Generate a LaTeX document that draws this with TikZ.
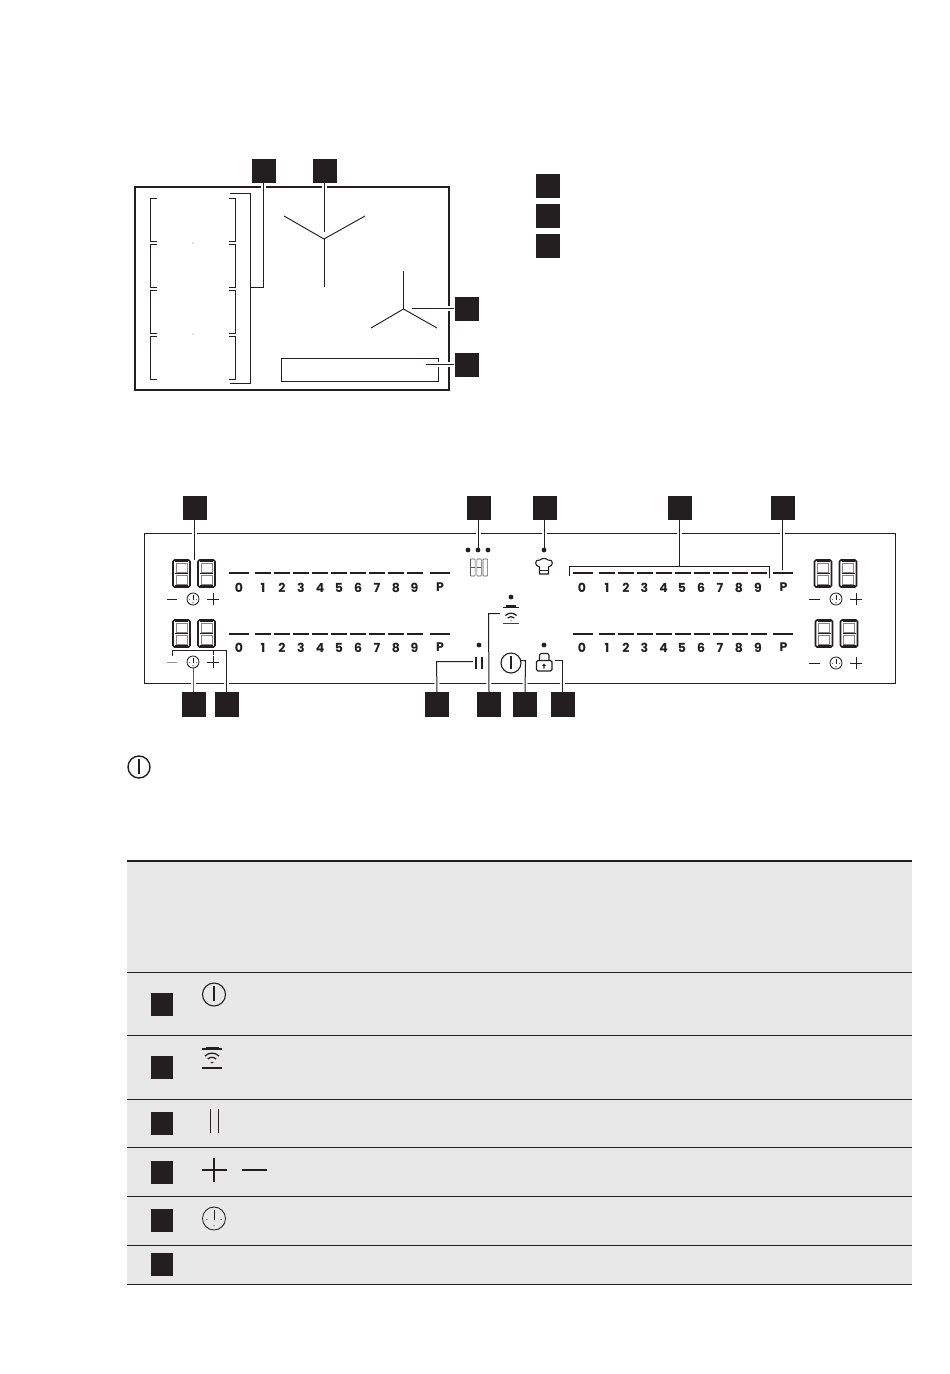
\documentclass[tikz,border=0pt]{standalone}
\usepackage{fontspec}
\setmainfont{Poppins}
\definecolor{ink}{HTML}{231F20}
\definecolor{band}{HTML}{E8E8E8}
\tikzset{
  sq/.style={fill=ink,draw=none,inner sep=0pt,minimum width=24pt,minimum height=24pt},
  sqs/.style={fill=ink,draw=none,inner sep=0pt,minimum width=22.5pt,minimum height=23pt},
  lead/.style={draw=ink,line width=1pt,preaction={draw=white,line width=5pt}},
  thin/.style={draw=ink,line width=.95pt},
  bar/.style={draw=ink,line width=2pt},
  num/.style={font=\bfseries\fontsize{12.5}{12.5}\selectfont,text=ink,inner sep=0pt},
  dotm/.style={circle,fill=ink,inner sep=0pt,minimum size=4.8pt}
}
\newcommand{\segdigit}[2]{%
  \draw[draw=ink,line width=1.7pt,line join=round]
    (#1+1.5,#2) -- (#1+15.5,#2) -- (#1+17,#2+1.5) -- (#1+17,#2+25.5) -- (#1+15.5,#2+27) -- (#1+1.5,#2+27) -- (#1,#2+25.5) -- (#1,#2+1.5) -- cycle;
  \draw[draw=ink!55,line width=.35pt]
    (#1+3,#2+3) -- (#1+14,#2+3) -- (#1+14,#2+12) -- (#1+3,#2+12) -- cycle
    (#1+3,#2+15) -- (#1+14,#2+15) -- (#1+14,#2+24) -- (#1+3,#2+24) -- cycle;
  \draw[draw=ink,line width=1.8pt] (#1+2,#2+1) -- ++(13,0) (#1+2,#2+26) -- ++(13,0) (#1+2,#2+13.5) -- ++(13,0);
}
\newcommand{\clockicon}[3]{%
  \draw[draw=ink,line width=.85pt] (#1,#2) circle (#3);
  \draw[draw=ink,line width=.85pt] (#1,#2-.7*#3) -- (#1,#2+.15*#3);
  \fill[ink] (#1-.62*#3,#2+.1*#3) circle (.55) (#1+.62*#3,#2+.1*#3) circle (.55) (#1,#2+.62*#3) circle (.55);
}
\newcommand{\ctlrow}[5]{%
  \draw[draw=#5,line width=1pt] (#1,#4) -- (#1+10.5,#4);
  \clockicon{#2}{#4}{6}
  \draw[draw=ink,line width=1pt] (#3-6,#4) -- (#3+6,#4) (#3,#4-6) -- (#3,#4+6);
}
\newcommand{\powericon}[4]{%
  \draw[draw=ink,line width=#4pt] (#1,#2) circle (#3);
  \draw[draw=ink,line width=#4pt] (#1,#2-.7*#3) -- (#1,#2+.6*#3);
}
% cx, bar y, half width, offsets of the three arcs
\newcommand{\hoodicon}[6]{%
  \fill[ink] (#1-.65*#3,#2-1.8) rectangle (#1+.65*#3,#2);
  \draw[draw=ink,line width=1.5pt] (#1-#3,#2+.5) -- (#1+#3,#2+.5);
  \draw[draw=ink,line width=1.25pt] (#1-.7*#3,#2+#4) arc (225:315:.99*#3);
  \draw[draw=ink,line width=1.25pt] (#1-.42*#3,#2+#5) arc (225:315:.59*#3);
  \fill[ink] (#1-.16*#3,#2+#6) arc (225:315:.23*#3) -- (#1,#2+#6+.8) -- cycle;
}
\begin{document}
\begin{tikzpicture}[x=1pt,y=-1pt]
\useasboundingbox (0,0) rectangle (950,1374);
% ---------- hob ----------
\draw[draw=ink,line width=2pt] (135,187) rectangle (449,390);
\node[sq] (a1) at (264,171) {};
\node[sq] (a2) at (324.5,171) {};
\node[sq] (a3) at (466.5,308.5) {};
\node[sq] (a4) at (466.5,365) {};
\node[sq] (l1) at (548,186) {};
\node[sq] (l2) at (548,216) {};
\node[sq] (l3) at (548,246) {};
\coordinate (a1e) at (250.5,287.5);
\coordinate (a2e) at (324.5,232);
\coordinate (a3e) at (412,308.5);
\coordinate (a4e) at (426,364.5);
\draw[lead] (a1.south -| 263.5,0) -- (263.5,287.5) -- (a1e);
\draw[lead] (a2.south) -- (a2e);
\draw[lead] (a3.west) -- (a3e);
\draw[thin] (281.5,358.5) rectangle (438.5,381.5);
\draw[lead] (a4.west |- 0,364.5) -- (a4e);
\draw[thin] (230,193.5) -- (250.5,193.5) -- (250.5,383.5) -- (230,383.5);
\foreach \ya/\yb in {198.5/241.5,244.5/287.5,290.5/333.5,336.5/379.5}{
  \draw[thin] (157,\ya) -- (150.5,\ya) -- (150.5,\yb) -- (157,\yb);
  \draw[thin] (229,\ya) -- (235.5,\ya) -- (235.5,\yb) -- (229,\yb);
}
\fill[ink!60] (193,243) circle (.7) (193,334) circle (.7);
\draw[thin] (284,216) -- (324,239) -- (365,216) (324.5,239) -- (324.5,287);
\draw[thin] (403.5,271) -- (403.5,309) (371,328) -- (403.5,309) -- (437,328);
% ---------- panel ----------
\draw[draw=ink,line width=1pt] (144.5,533.5) rectangle (895.5,683.5);
\node[sq] (p1) at (194.5,508) {};
\node[sq] (p2) at (478.5,508) {};
\node[sq] (p3) at (544.5,508) {};
\node[sq] (p4) at (679.5,508) {};
\node[sq] (p5) at (783,508) {};
\node[sq,minimum height=25pt] (b1) at (193.5,704.5) {};
\node[sq,minimum height=25pt] (b2) at (226.5,704.5) {};
\node[sq,minimum height=25pt] (b3) at (437,704.5) {};
\node[sq,minimum height=25pt] (b4) at (489,704.5) {};
\node[sq,minimum height=25pt] (b5) at (525,704.5) {};
\node[sq,minimum height=25pt] (b6) at (562.5,704.5) {};
\coordinate (p1e) at (194.5,560);
\coordinate (p2e) at (478.5,550);
\coordinate (p3e) at (544.5,550);
\coordinate (p4e) at (679.5,566);
\coordinate (p5e) at (782.5,570);
\draw[lead] (p1.south) -- (p1e);
\draw[lead] (p2.south) -- (p2e);
\draw[lead] (p3.south) -- (p3e);
\draw[lead] (p4.south) -- (p4e);
\draw[lead] (p5.south -| p5e) -- (p5e);
\draw[thin] (569.5,576) -- (569.5,566.5) -- (769.5,566.5) -- (769.5,578);
\coordinate (b1e) at (193.5,668);
\coordinate (b3e) at (473,661.5);
\coordinate (b4e) at (500,613.5);
\coordinate (b5e) at (520,660.5);
\coordinate (b6e) at (555,660.5);
\draw[lead,draw=ink!70,line width=1.2pt] (b1.north) -- (b1e);
\draw[lead] (b2.north) -- (226.5,650.5) -- (172.5,650.5) -- (172.5,656);
\draw[thin] (213.5,650.5) -- (213.5,655);
\draw[lead] (b3.north) -- (436.5,661.5) -- (b3e);
\draw[lead] (b4.north) -- (488.5,613.5) -- (b4e);
\draw[lead] (b5.north) -- (525.5,660.5) -- (b5e);
\draw[lead] (b6.north) -- (562.5,660.5) -- (b6e);
% seven-segment displays
\segdigit{173}{560}\segdigit{198}{560}
\segdigit{173}{620}\segdigit{198}{620}
\segdigit{814.5}{560}\segdigit{839.5}{560}
\segdigit{815.5}{620}\segdigit{840.5}{620}
\ctlrow{166.5}{193}{213}{599}{ink}
\ctlrow{166.5}{193}{213}{662}{ink!50}
\ctlrow{809}{836}{856}{599}{ink}
\ctlrow{809}{836}{856}{663}{ink}
% sliders
\foreach \yb/\yd in {573/587.5,634/647.5}{
  \draw[bar] (229,\yb) -- (249,\yb) (430,\yb) -- (450,\yb);
  \foreach \i in {0,...,8}{\draw[bar] (255+19*\i,\yb) -- (271+19*\i,\yb);}
  \foreach \n/\x in {0/239,1/263,2/282,3/301,4/320,5/339,6/358,7/377,8/396,9/414.5,P/440}{
    \node[num] (d\n\yd) at (\x,\yd) {\n};
  }
  \draw[bar] (572.5,\yb) -- (592.5,\yb) (773,\yb) -- (793,\yb);
  \foreach \i in {0,...,8}{\draw[bar] (598.5+19*\i,\yb) -- (614.5+19*\i,\yb);}
  \foreach \n/\x in {0/582,1/607,2/626,3/644.5,4/663.5,5/682,6/701,7/720,8/739,9/758,P/783.5}{
    \node[num] (e\n\yd) at (\x,\yd) {\n};
  }
}
% centre icons
\node[dotm] (m1) at (468,550) {};
\node[dotm] (m2) at (478,550) {};
\node[dotm] (m3) at (488,550) {};
\foreach \x/\m in {470.5/1,476.8/1,483/0}{
  \draw[draw=ink!75,line width=.55pt,rounded corners=.6pt] (\x,559) rectangle ++(4.6,17);
  \ifnum\m=1 \draw[draw=ink!75,line width=.5pt] (\x,567.5) -- ++(4.6,0); \fi
}
\node[dotm] (m4) at (544,550) {};
\draw[draw=ink,line width=1.1pt,line join=round]
  (539.5,567) .. controls (534,566) and (534.5,559) .. (540,560)
  .. controls (541,558) and (547,558) .. (548,560)
  .. controls (553.5,559) and (554,566) .. (548.5,567) -- (548.5,574) -- (539.5,574) -- cycle;
\draw[draw=ink,line width=.8pt] (539.5,570.5) -- (548.5,570.5);
\node[dotm] (m5) at (511,597) {};
\hoodicon{511}{607}{8}{8.5}{11}{13.5}
\draw[draw=ink!85,line width=.8pt] (503,623) -- (519,623);
\node[dotm] (m6) at (479,645) {};
\draw[draw=ink,line width=2pt] (476,657) -- (476,669) (482,657) -- (482,669);
\powericon{511}{663}{10}{1.1}
\node[dotm] (m7) at (544,645) {};
\draw[draw=ink,line width=1.1pt,rounded corners=1.5pt] (536.5,660.5) rectangle (552,671);
\draw[draw=ink,line width=1.1pt,rounded corners=2pt] (539.5,660.5) -- (539.5,653.5) -- (549,653.5) -- (549,660.5);
\fill[ink] (544,663.5) -- (545.8,665.8) -- (544.6,665.8) -- (544.6,668.5) -- (543.4,668.5) -- (543.4,665.8) -- (542.2,665.8) -- cycle;
% note icon
\powericon{139}{767}{11}{1.4}
% ---------- table ----------
\fill[band] (127,861) rectangle (912,1284);
\draw[draw=ink,line width=2pt] (127,861) -- (912,861);
\foreach \y in {972,1035,1099,1147,1196,1245,1284}{
  \draw[draw=ink,line width=1pt] (127,\y) -- (912,\y);
}
\node[sqs] (t1) at (162,1004.5) {};
\node[sqs] (t2) at (162,1067.5) {};
\node[sqs] (t3) at (162,1123.5) {};
\node[sqs] (t4) at (162,1172) {};
\node[sqs] (t5) at (162,1220.5) {};
\node[sqs] (t6) at (162,1264.5) {};
\powericon{214}{994.5}{11.5}{1.1}
\hoodicon{212}{1048.5}{10}{7.5}{10.5}{14}
\draw[draw=ink,line width=1.6pt] (202,1068) -- (222,1068);
\draw[draw=ink,line width=1pt] (210,1109) -- (210,1133) (218,1109) -- (218,1133);
\draw[draw=ink,line width=1.7pt] (202,1170) -- (226.5,1170) (214,1158) -- (214,1182);
\draw[draw=ink,line width=1.7pt] (242,1170) -- (267,1170);
\clockicon{214}{1218.5}{11.5}
\end{tikzpicture}
\end{document}
